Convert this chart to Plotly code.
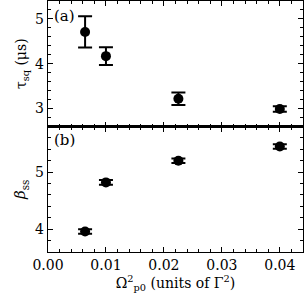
import plotly.graph_objects as go
from plotly.subplots import make_subplots

x_vals = [0.0064, 0.0100, 0.0225, 0.0400]
tau_sq = [4.71, 4.17, 3.22, 2.99]
tau_err = [0.35, 0.20, 0.14, 0.06]
beta_ss = [3.96, 4.82, 5.20, 5.45]
beta_err = [0.04, 0.04, 0.04, 0.04]
x_ticks = [0.00, 0.01, 0.02, 0.03, 0.04]
x_ticklabels = ["0.00", "0.01", "0.02", "0.03", "0.04"]

FONT = "DejaVu Serif"

fig = make_subplots(rows=2, cols=1, shared_xaxes=True, vertical_spacing=0)

common_marker = dict(color="black", size=10, symbol="circle")
fig.add_trace(go.Scatter(
    x=x_vals, y=tau_sq, mode="markers", marker=common_marker,
    error_y=dict(type="data", array=tau_err, color="black", thickness=2, width=7),
    showlegend=False), row=1, col=1)
fig.add_trace(go.Scatter(
    x=x_vals, y=beta_ss, mode="markers", marker=common_marker,
    error_y=dict(type="data", array=beta_err, color="black", thickness=2, width=7),
    showlegend=False), row=2, col=1)

axis_common = dict(
    showline=True, linecolor="black", linewidth=1.2, mirror="allticks",
    ticks="inside", ticklen=5, tickwidth=1, tickcolor="black",
    showgrid=False, zeroline=False,
    tickfont=dict(family=FONT, size=14, color="black"),
)
minor_x = dict(ticks="inside", ticklen=3, tickcolor="black", dtick=0.002, showgrid=False)

fig.update_xaxes(range=[0, 0.044], tickvals=x_ticks, ticktext=x_ticklabels,
                 minor=minor_x, **axis_common)
fig.update_xaxes(showticklabels=False, row=1, col=1)
fig.update_xaxes(title=dict(text="Ω<sup>2</sup><sub>p0</sub> (units of Γ<sup>2</sup>)",
                            font=dict(family=FONT, size=14, color="black"), standoff=6),
                 row=2, col=1)

fig.update_yaxes(range=[2.6, 5.4], tickvals=[3, 4, 5],
                 minor=dict(ticks="inside", ticklen=3, tickcolor="black", dtick=0.2, showgrid=False),
                 title=dict(text="τ<sub>sq</sub> (μs)", font=dict(family=FONT, size=14, color="black"), standoff=5),
                 row=1, col=1, **axis_common)
fig.update_yaxes(range=[3.6, 5.8], tickvals=[4, 5],
                 minor=dict(ticks="inside", ticklen=3, tickcolor="black", dtick=0.2, showgrid=False),
                 title=dict(text="<i>β</i><sub>ss</sub>", font=dict(family=FONT, size=15, color="black"), standoff=5),
                 row=2, col=1, **axis_common)

fig.add_annotation(text="(a)", xref="paper", yref="paper", x=0.015, y=0.985,
                   xanchor="left", yanchor="top", showarrow=False,
                   font=dict(family=FONT, size=15, color="black"))
fig.add_annotation(text="(b)", xref="paper", yref="paper", x=0.015, y=0.49,
                   xanchor="left", yanchor="top", showarrow=False,
                   font=dict(family=FONT, size=15, color="black"))

fig.update_layout(
    width=305, height=307,
    margin=dict(l=48, r=2, t=1, b=55),
    plot_bgcolor="white", paper_bgcolor="white",
    font=dict(family=FONT, color="black"),
)

fig.write_html("out.html", config={"displayModeBar": False, "staticPlot": True},
               post_script="document.body.style.margin='0';document.body.style.overflow='hidden';")
